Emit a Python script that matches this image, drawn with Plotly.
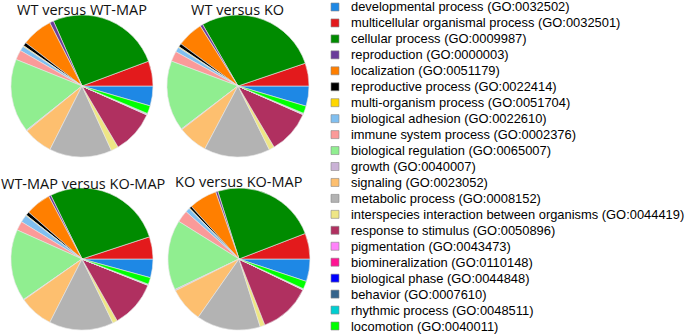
import plotly.graph_objects as go

W, H = 685, 335

labels = [
    "developmental process (GO:0032502)",
    "multicellular organismal process (GO:0032501)",
    "cellular process (GO:0009987)",
    "reproduction (GO:0000003)",
    "localization (GO:0051179)",
    "reproductive process (GO:0022414)",
    "multi-organism process (GO:0051704)",
    "biological adhesion (GO:0022610)",
    "immune system process (GO:0002376)",
    "biological regulation (GO:0065007)",
    "growth (GO:0040007)",
    "signaling (GO:0023052)",
    "metabolic process (GO:0008152)",
    "interspecies interaction between organisms (GO:0044419)",
    "response to stimulus (GO:0050896)",
    "pigmentation (GO:0043473)",
    "biomineralization (GO:0110148)",
    "biological phase (GO:0044848)",
    "behavior (GO:0007610)",
    "rhythmic process (GO:0048511)",
    "locomotion (GO:0040011)",
]

colors = [
    "#1E88E5", "#E31A1C", "#008B00", "#6A3D9A", "#FF7F00", "#000000",
    "#FFD700", "#80BFF0", "#FB9A99", "#90EE90", "#CAB2D6", "#FDBF6F",
    "#B3B3B3", "#EEE685", "#B03060", "#FF83FA", "#FF1493", "#0000FF",
    "#36648B", "#00CED1", "#00FF00",
]

titles = ["WT versus WT-MAP", "WT versus KO", "WT-MAP versus KO-MAP", "KO versus KO-MAP"]

wt_vs_wtmap = [16.3, 20.5, 93.4, 3.3, 25.5, 2.9, 0.7, 4.0, 8.0, 60.5, 0.8, 24.0,
               51.3, 6.1, 35.4, 0.5, 0.2, 0.1, 0.3, 0.2, 6.5]
wt_vs_ko = [16.5, 18.7, 101.2, 2.3, 21.4, 2.8, 0.7, 4.0, 8.4, 57.7, 0.7, 24.3,
            54.0, 4.4, 35.6, 0.4, 0.2, 0.1, 0.3, 0.2, 6.1]
wtmap_vs_komap = [15.3, 18.2, 97.9, 1.9, 20.8, 3.0, 0.5, 6.1, 7.5, 58.8, 0.5, 27.9,
                  52.7, 3.9, 38.5, 0.3, 0.2, 0.1, 0.2, 0.2, 5.5]
ko_vs_komap = [18.4, 21.1, 86.3, 1.8, 23.0, 2.0, 0.4, 3.6, 9.8, 57.5, 1.0, 28.5,
               52.4, 4.0, 42.8, 0.3, 0.2, 0.1, 0.2, 0.2, 6.4]

series = [wt_vs_wtmap, wt_vs_ko, wtmap_vs_komap, ko_vs_komap]

# pie centers / radius in pixels
centers = [(82, 86), (238, 86), (82, 259), (239, 259)]
R = 71
title_pos = [(82, 10), (237, 10), (83, 183), (238, 182)]

fig = go.Figure()
for vals, (cx, cy) in zip(series, centers):
    fig.add_trace(go.Pie(
        labels=labels, values=vals, sort=False,
        direction="counterclockwise", rotation=90,
        marker=dict(colors=colors, line=dict(color="#e6e6e6", width=0.6)),
        textinfo="none", hoverinfo="label+percent", showlegend=False,
        domain=dict(x=[(cx - R) / W, (cx + R) / W],
                    y=[1 - (cy + R) / H, 1 - (cy - R) / H]),
    ))

annotations = []
for t, (tx, ty) in zip(titles, title_pos):
    annotations.append(dict(text=t, x=tx / W, y=1 - ty / H, xref="paper", yref="paper",
                            xanchor="center", yanchor="middle", showarrow=False,
                            font=dict(family="Open Sans", size=14.5, color="#111")))

shapes = []
y0, dy = 7, 15.95
for i, (lab, col) in enumerate(zip(labels, colors)):
    yc = y0 + i * dy
    shapes.append(dict(type="rect", xref="paper", yref="paper",
                       x0=331 / W, x1=339 / W, y0=1 - (yc + 4) / H, y1=1 - (yc - 4) / H,
                       fillcolor=col, line=dict(color="#888", width=0.6)))
    annotations.append(dict(text=lab, x=349 / W, y=1 - yc / H, xref="paper", yref="paper",
                            xanchor="left", yanchor="middle", showarrow=False,
                            font=dict(family="Liberation Sans, Arial", size=12.9, color="#000")))

fig.update_layout(width=W, height=H, margin=dict(l=0, r=0, t=0, b=0),
                  paper_bgcolor="white", plot_bgcolor="white",
                  annotations=annotations, shapes=shapes)

fig.write_html("out.html", config={"displayModeBar": False},
               post_script="document.body.style.margin='0';")
